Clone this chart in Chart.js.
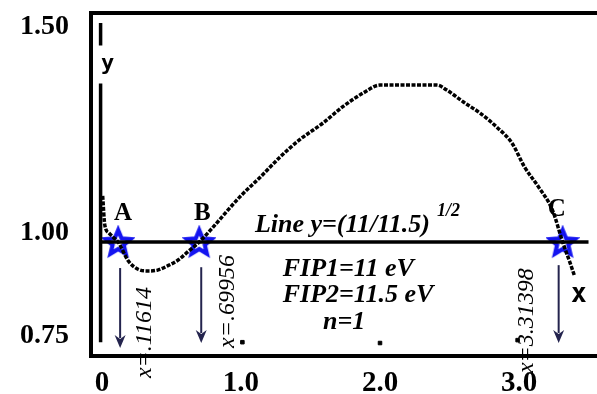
<!DOCTYPE html>
<html lang="en">
<head>
    <meta charset="UTF-8">
    <title>Roots of y(x) against line</title>
    <script src="https://cdn.jsdelivr.net/npm/chart.js"></script>
    <style>
        body { margin: 0; background: #fff; }
        .chart-box { width: 597px; height: 394px; }
    </style>
</head>
<body>
    <div class="chart-box"><canvas id="chart"></canvas></div>

    <script>
        // curve y(x)
        const curveX = [0.005, 0.02, 0.05, 0.08, 0.11614, 0.19, 0.26, 0.33, 0.40, 0.47, 0.55, 0.62, 0.69956,
            0.78, 0.99, 1.14, 1.28, 1.42, 1.59, 1.73, 1.88, 2.00, 2.41, 2.48, 2.60, 2.72, 2.84, 2.95, 3.04,
            3.14, 3.24, 3.31398, 3.37, 3.40];
        const curveY = [1.09, 1.02, 1.0, 0.99, 0.978, 0.932, 0.912, 0.908, 0.910, 0.920, 0.935, 0.955, 0.978,
            1.007, 1.087, 1.136, 1.184, 1.226, 1.267, 1.306, 1.340, 1.359, 1.359, 1.347, 1.318, 1.291, 1.257,
            1.218, 1.160, 1.112, 1.056, 0.978, 0.925, 0.895];

        // horizontal line y = (11/11.5)^(1/2)
        const lineLevel = Math.sqrt(11 / 11.5);
        const lineX = [-0.01, 3.50];

        // the old y axis drawn inside the plot (broken where the "y" sits)
        const axisX = [-0.01, -0.01, -0.01, -0.01, -0.01];
        const axisY = [1.51, 1.455, null, 1.363, 0.735];

        // small tick dots of the old x axis
        const dotX = [1.01, 2.0, 2.99];
        const dotY = [0.735, 0.733, 0.74];

        // the three crossings
        const rootX = [0.11614, 0.69956, 3.31398];
        const rootNames = ['A', 'B', 'C'];
        const rootLabels = ['x=.11614', 'x=.69956', 'x=3.31398'];

        // axis ticks
        const xTicks = [0, 1, 2, 3];
        const xTickLabels = ['0', '1.0', '2.0', '3.0'];
        const yTicks = [0.75, 1.00, 1.50];
        const yTickLabels = ['0.75', '1.00', '1.50'];

        const infoLines = ['FIP1=11 eV', 'FIP2=11.5 eV', 'n=1'];

        function pts(xs, ys) {
            return xs.map((x, i) => ({ x: x, y: ys[i] }));
        }

        function makeStar(r) {
            const c = document.createElement('canvas');
            c.width = c.height = 2 * r + 8;
            const g = c.getContext('2d');
            const cx = c.width / 2, cy = c.height / 2 + 1;
            g.strokeStyle = '#1414f0';
            g.lineWidth = 4.2;
            g.beginPath();
            for (let i = 0; i < 10; i++) {
                const a = -Math.PI / 2 + i * Math.PI / 5;
                const rr = i % 2 ? r * 0.45 : r;
                const px = cx + rr * Math.cos(a), py = cy + rr * Math.sin(a);
                if (i === 0) g.moveTo(px, py); else g.lineTo(px, py);
            }
            g.closePath();
            g.stroke();
            return c;
        }

        // frame top, arrows and all the text in the plot
        const decor = {
            id: 'decor',
            afterDatasetsDraw(chart) {
                const ctx = chart.ctx;
                const xs = chart.scales.x, ys = chart.scales.y;
                const area = chart.chartArea;
                ctx.save();

                // top frame line
                ctx.strokeStyle = '#000';
                ctx.lineWidth = 4;
                ctx.beginPath();
                ctx.moveTo(area.left - 2, area.top);
                ctx.lineTo(area.right, area.top);
                ctx.stroke();

                const lvl = ys.getPixelForValue(lineLevel);

                // arrows under the roots
                const arrowTop = [0.915, 0.917, 0.922];
                const arrowTip = [0.721, 0.733, 0.733];
                ctx.strokeStyle = '#24244e';
                ctx.fillStyle = '#24244e';
                ctx.lineWidth = 2;
                rootX.forEach((rx, i) => {
                    const px = xs.getPixelForValue(rx) + [2, 2, -4][i];
                    const y0 = ys.getPixelForValue(arrowTop[i]);
                    const y1 = ys.getPixelForValue(arrowTip[i]);
                    ctx.beginPath();
                    ctx.moveTo(px, y0);
                    ctx.lineTo(px, y1 - 10);
                    ctx.stroke();
                    ctx.beginPath();
                    ctx.moveTo(px - 5.5, y1 - 13);
                    ctx.lineTo(px, y1 - 9);
                    ctx.lineTo(px + 5.5, y1 - 13);
                    ctx.lineTo(px, y1);
                    ctx.closePath();
                    ctx.fill();
                });

                // rotated x= labels
                const labelDx = [27, 28, -36];
                const labelBottom = [0.648, 0.721, 0.660];
                ctx.fillStyle = '#000';
                ctx.font = 'italic 24px "Liberation Serif"';
                ctx.textAlign = 'left';
                ctx.textBaseline = 'middle';
                rootX.forEach((rx, i) => {
                    ctx.save();
                    ctx.translate(xs.getPixelForValue(rx) + labelDx[i], ys.getPixelForValue(labelBottom[i]));
                    ctx.rotate(-Math.PI / 2);
                    ctx.fillText(rootLabels[i], 0, 0);
                    ctx.restore();
                });

                // A B C
                ctx.font = 'bold 25px "Liberation Serif"';
                ctx.textAlign = 'center';
                ctx.textBaseline = 'alphabetic';
                const nameDx = [5, 3, -6];
                const nameUp = [22, 22, 26];
                rootX.forEach((rx, i) => {
                    ctx.fillText(rootNames[i], xs.getPixelForValue(rx) + nameDx[i], lvl - nameUp[i]);
                });

                // line caption
                ctx.font = 'bold italic 26px "Liberation Serif"';
                ctx.textAlign = 'left';
                const capX = xs.getPixelForValue(1.10);
                ctx.fillText('Line y=(11/11.5)', capX, lvl - 10);
                const capW = ctx.measureText('Line y=(11/11.5)').width;
                ctx.font = 'bold italic 18px "Liberation Serif"';
                ctx.fillText('1/2', capX + capW + 7, lvl - 26);

                // parameters
                ctx.font = 'bold italic 26px "Liberation Serif"';
                ctx.fillText(infoLines[0], xs.getPixelForValue(1.30), lvl + 34);
                ctx.fillText(infoLines[1], xs.getPixelForValue(1.30), lvl + 60);
                ctx.fillText(infoLines[2], xs.getPixelForValue(1.59), lvl + 87);

                // old axis letters
                ctx.font = 'bold 22px "DejaVu Sans Mono"';
                ctx.textAlign = 'center';
                ctx.textBaseline = 'middle';
                ctx.fillText('y', xs.getPixelForValue(0.04), ys.getPixelForValue(1.41));
                ctx.font = 'bold 26px "DejaVu Sans Mono"';
                ctx.fillText('x', xs.getPixelForValue(3.43), ys.getPixelForValue(0.85));

                ctx.restore();
            }
        };

        const starImg = makeStar(13);

        new Chart(document.getElementById('chart'), {
            type: 'scatter',
            data: {
                datasets: [
                    {
                        label: 'y axis',
                        data: pts(axisX, axisY),
                        showLine: true,
                        spanGaps: false,
                        borderColor: '#000',
                        borderWidth: 3.5,
                        pointRadius: 0
                    },
                    {
                        label: 'line',
                        data: pts(lineX, [lineLevel, lineLevel]),
                        showLine: true,
                        borderColor: '#000',
                        borderWidth: 3.5,
                        pointRadius: 0
                    },
                    {
                        label: 'y(x)',
                        data: pts(curveX, curveY),
                        showLine: true,
                        borderColor: '#000',
                        borderWidth: 3.5,
                        borderDash: [4, 1.5],
                        cubicInterpolationMode: 'monotone',
                        pointRadius: 0
                    },
                    {
                        label: 'dots',
                        data: pts(dotX, dotY),
                        pointStyle: 'rect',
                        pointRadius: 2.5,
                        backgroundColor: '#000',
                        borderColor: '#000'
                    },
                    {
                        label: 'roots',
                        data: pts(rootX, rootX.map(() => lineLevel)),
                        pointStyle: starImg,
                        pointRadius: 14
                    }
                ]
            },
            options: {
                responsive: true,
                maintainAspectRatio: false,
                animation: false,
                layout: { autoPadding: false, padding: { left: 0, top: 13, right: 0, bottom: 0 } },
                plugins: {
                    legend: { display: false },
                    tooltip: { enabled: false }
                },
                scales: {
                    x: {
                        type: 'linear',
                        min: -0.079,
                        max: 3.561,
                        afterBuildTicks: s => { s.ticks = xTicks.map(v => ({ value: v })); },
                        afterFit: s => { s.height = 38; s.paddingLeft = 0; s.paddingRight = 0; },
                        grid: { display: false, drawTicks: false },
                        border: { display: true, color: '#000', width: 4 },
                        ticks: {
                            padding: 10,
                            maxRotation: 0,
                            autoSkip: false,
                            color: '#000',
                            font: { family: 'Liberation Serif', size: 29, weight: 'bold' },
                            callback: v => xTickLabels[xTicks.indexOf(v)]
                        }
                    },
                    y: {
                        type: 'linear',
                        min: 0.7015,
                        max: 1.534,
                        afterBuildTicks: s => { s.ticks = yTicks.map(v => ({ value: v })); },
                        afterFit: s => { s.width = 91; s.paddingTop = 0; s.paddingBottom = 0; },
                        grid: { display: false, drawTicks: false },
                        border: { display: true, color: '#000', width: 4 },
                        ticks: {
                            padding: 22,
                            autoSkip: false,
                            color: '#000',
                            font: { family: 'Liberation Serif', size: 28, weight: 'bold' },
                            callback: v => yTickLabels[yTicks.indexOf(v)]
                        }
                    }
                }
            },
            plugins: [decor]
        });
    </script>
</body>
</html>
